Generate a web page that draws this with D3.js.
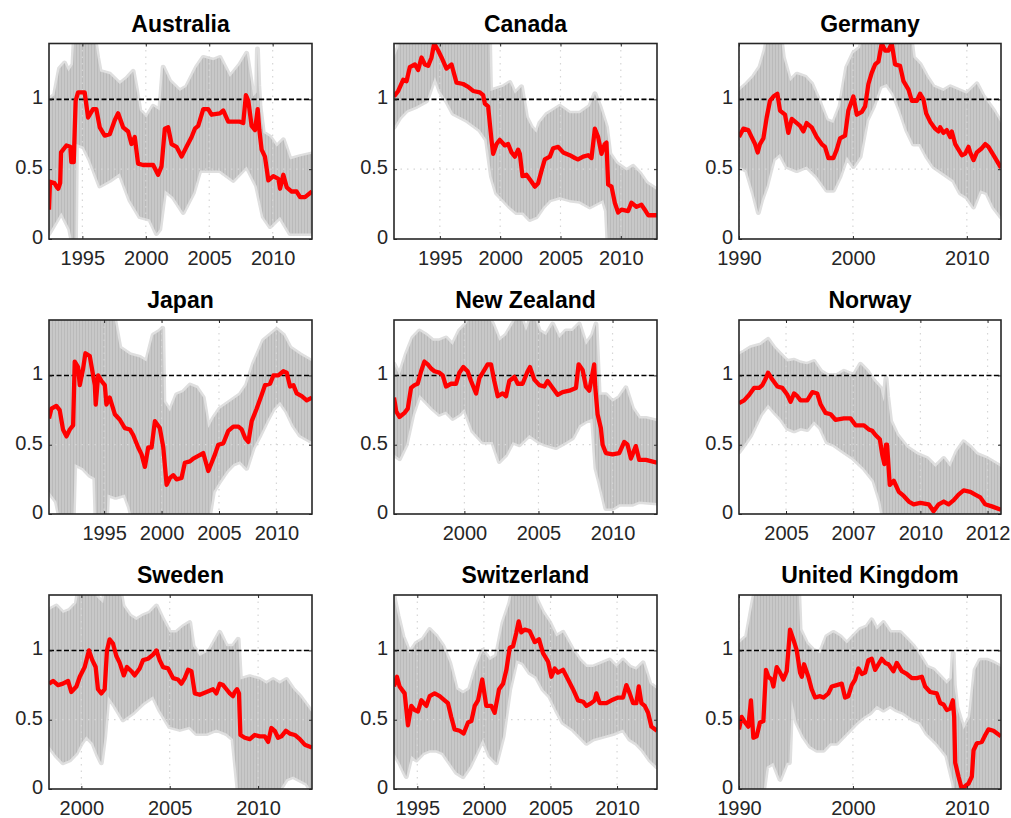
<!DOCTYPE html>
<html>
<head>
<meta charset="utf-8">
<title>Ratios by country</title>
<script src="https://cdn.jsdelivr.net/npm/d3@7"></script>
<style>
body { margin: 0; background: #fff; }
.axis path { display: none; }
.axis line { stroke: #262626; stroke-width: 1; }
.axis text { font-family: "Liberation Sans", Arial, Helvetica, sans-serif; font-size: 20px; fill: #262626; }
.title { font-family: "Liberation Sans", Arial, Helvetica, sans-serif; font-size: 23px; font-weight: bold; fill: #000; }
</style>
</head>
<body>
<script>
// panel names, x ranges (decimal years) and tick positions
var countries = ["Australia", "Canada", "Germany", "Japan", "New Zealand", "Norway", "Sweden", "Switzerland", "United Kingdom"];
var xDomains = [[1992.37, 2013.1], [1991.2, 2013.0], [1990, 2013], [1990.2, 2013.1], [1995.25, 2013], [2003.25, 2013], [1998.17, 2013.05], [1993.25, 2013], [1990, 2013]];
var xTicks = [[1995, 2000, 2005, 2010], [1995, 2000, 2005, 2010], [1990, 2000, 2010], [1995, 2000, 2005, 2010], [2000, 2005, 2010], [2005, 2007.5, 2010, 2012.5], [2000, 2005, 2010], [1995, 2000, 2005, 2010], [1990, 2000, 2010]];
var yTicks = [0, 0.5, 1];
var yDomain = [0, 1.4];
var refLevel = 1;

// estimate [year, value], band lower / upper [year, value]
var ausEst = [[1992.37,0.21],[1992.45,0.41],[1992.8,0.40],[1993.0,0.37],[1993.1,0.36],[1993.25,0.40],[1993.32,0.62],[1993.74,0.67],[1994.05,0.66],[1994.13,0.55],[1994.32,0.55],[1994.47,0.99],[1994.66,1.05],[1995.18,1.05],[1995.45,0.87],[1995.84,0.93],[1996.1,0.93],[1996.37,0.80],[1996.76,0.74],[1997.16,0.75],[1997.55,0.85],[1997.82,0.90],[1998.21,0.80],[1998.61,0.77],[1998.87,0.68],[1999.13,0.73],[1999.39,0.54],[1999.79,0.53],[2000.58,0.53],[2000.97,0.46],[2001.24,0.52],[2001.5,0.79],[2001.76,0.80],[2002.03,0.68],[2002.42,0.66],[2002.82,0.59],[2003.21,0.66],[2003.61,0.73],[2003.87,0.79],[2004.13,0.81],[2004.53,0.93],[2004.92,0.93],[2005.18,0.89],[2005.84,0.90],[2006.11,0.92],[2006.5,0.84],[2007.42,0.84],[2007.68,0.83],[2007.89,1.03],[2008.08,0.99],[2008.34,0.81],[2008.61,0.78],[2008.82,0.93],[2008.95,0.78],[2009.13,0.64],[2009.39,0.59],[2009.66,0.42],[2010.05,0.45],[2010.45,0.43],[2010.58,0.36],[2010.84,0.46],[2011.11,0.37],[2011.5,0.34],[2011.89,0.34],[2012.16,0.30],[2012.55,0.30],[2013.1,0.34]];
var ausLo = [[1992.37,0.04],[1993.34,0.19],[1994.0,0.07],[1994.26,-0.05],[1994.45,-0.05],[1994.53,0.68],[1995.1,0.66],[1995.58,0.57],[1996.37,0.38],[1997.16,0.42],[1997.95,0.47],[1998.74,0.28],[1999.53,0.16],[2000.32,0.14],[2000.84,0.04],[2001.1,0.07],[2001.5,0.35],[2002.16,0.30],[2002.95,0.19],[2003.74,0.33],[2004.26,0.49],[2005.05,0.49],[2005.84,0.49],[2006.89,0.42],[2007.95,0.52],[2008.74,0.38],[2009.26,0.16],[2009.79,0.09],[2010.58,0.16],[2011.37,0.04],[2012.16,0.04],[2013.1,0.04]];
var ausHi = [[1992.37,1.00],[1992.8,1.03],[1993.2,1.22],[1993.6,1.26],[1993.9,1.20],[1994.26,1.25],[1994.4,1.50],[1995.9,1.48],[1996.2,1.30],[1996.4,1.20],[1997.16,1.18],[1997.95,1.11],[1998.5,1.15],[1999.0,1.20],[1999.3,1.05],[1999.53,0.92],[2000.05,0.87],[2000.58,0.95],[2001.1,0.92],[2001.37,1.23],[2001.89,1.13],[2002.68,1.06],[2003.21,1.09],[2004.0,1.23],[2004.53,1.30],[2005.32,1.28],[2005.84,1.30],[2006.63,1.16],[2007.42,1.25],[2007.95,1.33],[2008.47,1.02],[2008.74,1.05],[2008.8,1.36],[2008.9,1.10],[2009.0,0.95],[2009.26,0.76],[2009.79,0.73],[2010.32,0.66],[2010.84,0.71],[2011.37,0.57],[2012.16,0.59],[2013.1,0.61]];

var canEst = [[1991.2,1.02],[1991.55,1.06],[1991.96,1.14],[1992.24,1.13],[1992.51,1.23],[1992.93,1.25],[1993.2,1.21],[1993.48,1.30],[1993.76,1.25],[1994.03,1.24],[1994.31,1.30],[1994.53,1.40],[1994.86,1.35],[1995.14,1.30],[1995.55,1.22],[1995.97,1.25],[1996.38,1.12],[1996.93,1.11],[1997.35,1.09],[1997.76,1.06],[1998.31,1.05],[1998.59,1.03],[1998.73,0.97],[1999.0,0.95],[1999.28,0.71],[1999.42,0.61],[1999.7,0.68],[1999.97,0.71],[2000.39,0.67],[2000.66,0.68],[2000.94,0.62],[2001.22,0.59],[2001.49,0.64],[2001.63,0.61],[2001.85,0.45],[2002.18,0.46],[2002.6,0.41],[2002.87,0.375],[2003.15,0.40],[2003.43,0.49],[2003.7,0.57],[2004.12,0.59],[2004.39,0.65],[2004.81,0.66],[2005.22,0.62],[2005.77,0.60],[2006.19,0.58],[2006.46,0.57],[2006.88,0.59],[2007.29,0.60],[2007.57,0.58],[2007.85,0.79],[2008.12,0.73],[2008.4,0.61],[2008.67,0.68],[2008.81,0.69],[2008.95,0.39],[2009.23,0.375],[2009.5,0.26],[2009.78,0.19],[2010.06,0.21],[2010.61,0.20],[2010.88,0.26],[2011.3,0.23],[2011.71,0.245],[2011.99,0.21],[2012.27,0.17],[2013.0,0.17]];
var canLo = [[1991.2,0.80],[1991.69,0.87],[1992.24,0.92],[1993.07,0.95],[1993.9,0.99],[1994.59,1.16],[1995.0,1.06],[1995.55,0.99],[1996.1,0.90],[1997.21,0.85],[1998.31,0.78],[1998.87,0.71],[1999.28,0.45],[1999.7,0.33],[2000.25,0.28],[2000.8,0.23],[2001.35,0.19],[2001.91,0.19],[2002.46,0.14],[2003.01,0.16],[2003.56,0.23],[2004.12,0.28],[2004.94,0.30],[2005.77,0.28],[2006.6,0.27],[2007.43,0.23],[2008.54,0.28],[2008.81,0.20],[2008.95,-0.05],[2013.0,-0.05]];
var canHi = [[1991.2,1.30],[1991.55,1.37],[1991.8,1.50],[1999.1,1.50],[1999.2,1.06],[2000.25,1.09],[2000.8,1.12],[2001.22,1.04],[2001.77,1.09],[2002.18,0.87],[2002.6,0.80],[2003.01,0.76],[2003.29,0.83],[2003.84,0.89],[2004.39,0.92],[2004.94,0.95],[2005.77,0.90],[2006.6,0.90],[2007.43,0.95],[2007.85,1.04],[2008.26,0.95],[2008.81,0.80],[2009.09,0.61],[2009.64,0.54],[2010.47,0.49],[2011.02,0.52],[2011.57,0.47],[2012.13,0.40],[2013.0,0.35]];

var gerEst = [[1990.0,0.73],[1990.38,0.79],[1990.82,0.78],[1991.11,0.73],[1991.41,0.68],[1991.64,0.62],[1991.84,0.68],[1992.14,0.72],[1992.43,0.87],[1992.72,0.99],[1993.02,1.02],[1993.37,1.04],[1993.6,0.92],[1994.04,0.89],[1994.33,0.76],[1994.63,0.86],[1994.92,0.84],[1995.36,0.81],[1995.65,0.77],[1995.94,0.83],[1996.38,0.80],[1996.82,0.73],[1997.26,0.68],[1997.55,0.66],[1997.85,0.58],[1998.29,0.58],[1998.58,0.64],[1998.87,0.72],[1999.31,0.74],[1999.6,0.92],[2000.04,1.02],[2000.34,0.89],[2000.78,0.91],[2001.07,0.95],[2001.36,1.11],[2001.65,1.19],[2001.95,1.25],[2002.24,1.27],[2002.53,1.40],[2002.83,1.35],[2003.12,1.35],[2003.41,1.40],[2003.7,1.25],[2004.14,1.24],[2004.44,1.13],[2004.88,1.07],[2005.17,0.99],[2005.61,0.99],[2005.9,1.04],[2006.19,1.00],[2006.43,0.90],[2006.78,0.84],[2007.22,0.79],[2007.51,0.77],[2007.66,0.80],[2007.95,0.76],[2008.24,0.78],[2008.54,0.73],[2008.68,0.77],[2008.98,0.68],[2009.27,0.64],[2009.56,0.60],[2009.85,0.61],[2010.15,0.66],[2010.29,0.62],[2010.59,0.565],[2010.88,0.62],[2011.32,0.65],[2011.62,0.68],[2011.9,0.66],[2012.34,0.60],[2013.0,0.51]];
var gerLo = [[1990.0,0.52],[1990.67,0.49],[1991.26,0.33],[1991.7,0.19],[1991.99,0.28],[1992.43,0.38],[1993.02,0.57],[1993.6,0.61],[1994.19,0.52],[1995.07,0.49],[1995.94,0.52],[1996.82,0.45],[1997.7,0.35],[1998.29,0.35],[1998.87,0.45],[1999.46,0.59],[2000.04,0.52],[2000.63,0.59],[2001.22,0.85],[2001.8,0.95],[2002.39,1.09],[2002.97,1.11],[2003.56,1.04],[2004.14,0.92],[2004.73,0.78],[2005.31,0.68],[2005.9,0.68],[2006.49,0.59],[2007.07,0.52],[2007.95,0.47],[2008.83,0.42],[2009.42,0.33],[2010.0,0.30],[2010.59,0.23],[2011.17,0.35],[2011.76,0.33],[2012.34,0.23],[2013.0,0.16]];
var gerHi = [[1990.0,1.06],[1990.67,1.11],[1991.26,1.16],[1991.84,1.23],[1992.28,1.35],[1992.58,1.50],[1993.6,1.50],[1993.89,1.30],[1994.48,1.13],[1995.07,1.18],[1995.8,1.16],[1996.38,1.11],[1997.12,0.97],[1997.7,0.85],[1998.29,0.83],[1998.87,0.95],[1999.46,1.23],[2000.04,1.33],[2000.63,1.37],[2001.07,1.50],[2005.02,1.50],[2005.31,1.30],[2005.9,1.25],[2006.49,1.16],[2007.07,1.09],[2007.95,1.06],[2008.54,1.09],[2009.42,1.06],[2010.0,1.04],[2010.88,1.11],[2011.46,1.02],[2012.34,0.92],[2013.0,0.83]];

var japEst = [[1990.2,0.69],[1990.41,0.76],[1990.84,0.78],[1991.13,0.75],[1991.42,0.61],[1991.72,0.56],[1992.01,0.61],[1992.3,0.64],[1992.44,1.10],[1992.73,1.06],[1992.88,0.93],[1993.17,1.05],[1993.37,1.16],[1993.75,1.14],[1994.19,0.93],[1994.27,0.79],[1994.48,1.00],[1994.77,0.96],[1995.06,0.93],[1995.2,0.79],[1995.49,0.84],[1995.93,0.72],[1996.37,0.68],[1996.8,0.62],[1997.24,0.61],[1997.53,0.57],[1997.97,0.48],[1998.26,0.43],[1998.55,0.34],[1998.84,0.48],[1999.13,0.48],[1999.42,0.67],[1999.85,0.62],[2000.15,0.48],[2000.44,0.21],[2000.73,0.26],[2001.02,0.28],[2001.31,0.25],[2001.74,0.26],[2002.03,0.37],[2002.47,0.38],[2002.76,0.40],[2003.2,0.42],[2003.63,0.44],[2004.07,0.31],[2004.36,0.37],[2004.65,0.43],[2004.94,0.50],[2005.38,0.51],[2005.81,0.60],[2006.25,0.63],[2006.69,0.63],[2006.98,0.61],[2007.27,0.55],[2007.56,0.52],[2007.85,0.67],[2008.28,0.76],[2008.72,0.86],[2009.01,0.93],[2009.45,0.94],[2009.74,1.00],[2010.17,1.00],[2010.61,1.03],[2010.9,1.02],[2011.19,0.92],[2011.48,0.93],[2011.77,0.87],[2012.21,0.85],[2012.64,0.82],[2013.1,0.84]];
var japLo = [[1990.2,0.16],[1990.84,0.09],[1991.2,-0.05],[1992.3,-0.05],[1992.44,0.36],[1993.17,0.33],[1993.75,0.28],[1994.19,0.26],[1994.3,-0.05],[1995.2,-0.05],[1995.3,0.14],[1996.0,0.12],[1996.8,0.14],[1997.2,0.05],[1997.5,-0.05],[2004.1,-0.05],[2004.51,0.16],[2005.09,0.24],[2005.67,0.31],[2006.25,0.36],[2006.83,0.38],[2007.41,0.33],[2007.99,0.48],[2008.58,0.57],[2009.16,0.67],[2009.74,0.76],[2010.32,0.81],[2010.9,0.74],[2011.48,0.64],[2012.06,0.57],[2013.1,0.52]];
var japHi = [[1990.2,1.50],[1995.7,1.50],[1996.37,1.20],[1997.24,1.15],[1998.11,1.13],[1998.69,1.10],[1999.27,1.29],[1999.85,1.32],[2000.1,1.34],[2000.2,0.81],[2000.73,0.74],[2001.31,0.86],[2001.89,0.88],[2002.47,0.93],[2003.05,0.91],[2003.63,0.84],[2004.07,0.62],[2004.51,0.69],[2005.09,0.76],[2005.96,0.81],[2006.83,0.86],[2007.41,0.93],[2007.99,1.08],[2008.87,1.25],[2009.45,1.29],[2010.03,1.33],[2010.61,1.29],[2011.19,1.20],[2012.06,1.15],[2013.1,1.10]];

var nzlEst = [[1995.25,0.84],[1995.4,0.74],[1995.62,0.70],[1995.96,0.73],[1996.18,0.76],[1996.4,0.91],[1996.63,0.93],[1996.85,0.94],[1997.08,1.03],[1997.3,1.10],[1997.53,1.08],[1997.75,1.05],[1997.98,1.03],[1998.31,1.02],[1998.54,1.00],[1998.76,0.92],[1999.1,0.94],[1999.44,0.94],[1999.66,1.02],[1999.93,1.06],[2000.22,1.03],[2000.45,0.96],[2000.79,0.87],[2001.01,0.98],[2001.24,1.02],[2001.57,1.08],[2001.8,1.08],[2002.02,0.96],[2002.25,0.85],[2002.58,0.87],[2002.81,0.85],[2003.03,0.96],[2003.37,0.99],[2003.6,0.94],[2003.93,0.94],[2004.27,1.03],[2004.43,1.06],[2004.72,0.97],[2005.06,0.93],[2005.39,0.92],[2005.62,0.96],[2005.96,0.91],[2006.29,0.86],[2006.63,0.88],[2007.08,0.89],[2007.53,0.91],[2007.71,1.08],[2007.98,1.04],[2008.2,0.92],[2008.43,0.89],[2008.76,1.08],[2008.83,0.92],[2008.99,0.72],[2009.21,0.62],[2009.33,0.50],[2009.55,0.44],[2010.0,0.43],[2010.45,0.44],[2010.79,0.52],[2011.01,0.50],[2011.24,0.40],[2011.57,0.49],[2011.8,0.39],[2012.25,0.39],[2013.0,0.37]];
var nzlLo = [[1995.25,0.43],[1995.62,0.40],[1996.07,0.50],[1996.52,0.72],[1996.97,0.86],[1997.42,0.81],[1997.87,0.76],[1998.31,0.72],[1998.76,0.74],[1999.21,0.69],[1999.66,0.72],[2000.0,0.76],[2000.56,0.60],[2001.24,0.52],[2001.91,0.52],[2002.36,0.38],[2002.81,0.43],[2003.26,0.52],[2003.71,0.50],[2004.38,0.57],[2005.06,0.52],[2005.51,0.50],[2006.18,0.48],[2006.85,0.52],[2007.3,0.55],[2007.75,0.64],[2008.2,0.67],[2008.65,0.69],[2008.88,0.33],[2009.1,0.24],[2009.55,0.04],[2010.0,0.04],[2010.45,0.07],[2011.35,0.07],[2011.8,0.09],[2013.0,0.08]];
var nzlHi = [[1995.25,1.08],[1995.62,1.00],[1996.07,1.15],[1996.52,1.27],[1996.97,1.32],[1997.42,1.29],[1997.87,1.25],[1998.31,1.25],[1998.76,1.27],[1999.21,1.22],[1999.66,1.32],[2000.11,1.37],[2000.56,1.45],[2001.46,1.45],[2001.91,1.37],[2002.36,1.25],[2002.81,1.29],[2003.26,1.37],[2003.71,1.45],[2004.16,1.32],[2004.61,1.45],[2005.06,1.32],[2005.51,1.29],[2005.96,1.37],[2006.4,1.27],[2006.85,1.32],[2007.3,1.32],[2007.75,1.37],[2008.2,1.22],[2008.65,1.29],[2008.88,1.37],[2009.1,0.86],[2009.55,0.86],[2010.0,0.81],[2010.45,0.84],[2010.9,0.91],[2011.35,0.76],[2011.8,0.69],[2012.25,0.69],[2013.0,0.67]];

var norEst = [[2003.25,0.80],[2003.44,0.82],[2003.63,0.86],[2003.81,0.91],[2004.0,0.91],[2004.12,0.93],[2004.25,0.98],[2004.33,1.02],[2004.49,0.97],[2004.68,0.92],[2004.86,0.91],[2005.05,0.86],[2005.17,0.81],[2005.3,0.87],[2005.42,0.85],[2005.54,0.82],[2005.79,0.82],[2005.98,0.88],[2006.16,0.87],[2006.29,0.79],[2006.47,0.73],[2006.66,0.72],[2006.84,0.68],[2007.15,0.69],[2007.4,0.69],[2007.59,0.64],[2007.9,0.64],[2008.08,0.61],[2008.21,0.60],[2008.33,0.57],[2008.49,0.54],[2008.58,0.43],[2008.66,0.36],[2008.72,0.50],[2008.76,0.50],[2008.86,0.21],[2009.01,0.24],[2009.2,0.16],[2009.38,0.13],[2009.57,0.09],[2009.75,0.07],[2010.0,0.08],[2010.31,0.07],[2010.49,0.02],[2010.68,0.07],[2010.87,0.09],[2011.05,0.07],[2011.24,0.10],[2011.42,0.14],[2011.61,0.17],[2011.86,0.16],[2012.04,0.14],[2012.23,0.12],[2012.41,0.07],[2012.66,0.055],[2013.0,0.03]];
var norLo = [[2003.25,0.45],[2003.44,0.50],[2003.69,0.57],[2004.06,0.72],[2004.33,0.79],[2004.55,0.74],[2004.8,0.69],[2005.05,0.62],[2005.3,0.60],[2005.54,0.62],[2005.79,0.61],[2006.04,0.67],[2006.29,0.62],[2006.53,0.52],[2006.78,0.50],[2007.15,0.45],[2007.52,0.40],[2007.9,0.33],[2008.27,0.24],[2008.51,0.09],[2008.64,-0.05],[2013.0,-0.05]];
var norHi = [[2003.25,1.15],[2003.44,1.17],[2003.69,1.20],[2004.06,1.22],[2004.33,1.26],[2004.55,1.20],[2004.8,1.15],[2005.05,1.10],[2005.3,1.11],[2005.54,1.09],[2005.79,1.08],[2006.04,1.10],[2006.29,1.03],[2006.53,1.00],[2006.91,1.00],[2007.15,1.03],[2007.52,1.00],[2007.77,1.08],[2008.02,1.03],[2008.27,0.96],[2008.51,0.91],[2008.64,0.81],[2008.72,0.98],[2008.78,0.85],[2008.89,0.67],[2009.13,0.57],[2009.5,0.48],[2009.88,0.43],[2010.25,0.40],[2010.56,0.34],[2010.87,0.40],[2011.11,0.34],[2011.36,0.45],[2011.61,0.52],[2011.86,0.48],[2012.1,0.43],[2012.48,0.40],[2013.0,0.34]];

var sweEst = [[1998.17,0.76],[1998.4,0.78],[1998.68,0.75],[1998.96,0.76],[1999.25,0.78],[1999.43,0.70],[1999.72,0.74],[1999.91,0.81],[2000.19,0.88],[2000.43,1.00],[2000.62,0.93],[2000.81,0.88],[2000.94,0.72],[2001.13,0.69],[2001.32,0.72],[2001.45,1.00],[2001.6,1.08],[2001.79,1.05],[2001.98,0.96],[2002.17,0.91],[2002.4,0.82],[2002.58,0.88],[2002.83,0.85],[2003.02,0.82],[2003.3,0.87],[2003.49,0.93],[2003.77,0.94],[2004.06,0.97],[2004.25,1.00],[2004.43,0.93],[2004.62,0.88],[2004.91,0.87],[2005.19,0.80],[2005.47,0.79],[2005.66,0.76],[2005.85,0.80],[2006.04,0.86],[2006.23,0.85],[2006.42,0.69],[2006.7,0.68],[2007.08,0.70],[2007.45,0.72],[2007.64,0.69],[2007.83,0.76],[2008.02,0.75],[2008.21,0.72],[2008.4,0.69],[2008.58,0.67],[2008.68,0.70],[2008.81,0.72],[2008.92,0.69],[2009.0,0.39],[2009.25,0.37],[2009.53,0.36],[2009.81,0.39],[2010.09,0.38],[2010.38,0.38],[2010.57,0.34],[2010.75,0.44],[2010.94,0.42],[2011.13,0.37],[2011.32,0.38],[2011.57,0.42],[2011.79,0.40],[2012.08,0.39],[2012.36,0.36],[2012.64,0.32],[2013.05,0.30]];
var sweLo = [[1998.17,0.31],[1998.58,0.24],[1998.96,0.19],[1999.34,0.21],[1999.72,0.26],[2000.0,0.33],[2000.28,0.38],[2000.66,0.33],[2000.94,0.24],[2001.13,0.19],[2001.32,0.38],[2001.51,0.67],[2001.89,0.60],[2002.36,0.50],[2002.92,0.55],[2003.49,0.62],[2004.06,0.67],[2004.43,0.57],[2005.0,0.45],[2005.57,0.43],[2006.13,0.45],[2006.51,0.40],[2007.08,0.40],[2007.64,0.43],[2008.21,0.40],[2008.58,0.36],[2008.9,-0.05],[2011.0,-0.05],[2011.6,0.07],[2011.98,0.09],[2012.74,0.04],[2013.05,-0.02]];
var sweHi = [[1998.17,1.29],[1998.58,1.32],[1998.96,1.27],[1999.34,1.29],[1999.72,1.34],[1999.91,1.50],[2000.8,1.50],[2000.85,1.39],[2001.23,1.34],[2001.42,1.50],[2002.1,1.50],[2002.36,1.32],[2002.74,1.25],[2003.11,1.22],[2003.49,1.25],[2003.87,1.27],[2004.25,1.32],[2004.62,1.22],[2005.0,1.13],[2005.38,1.13],[2005.75,1.17],[2006.13,1.20],[2006.32,1.03],[2006.7,0.96],[2007.26,1.00],[2007.83,1.13],[2008.21,1.03],[2008.58,1.03],[2008.87,1.08],[2009.0,0.79],[2009.53,0.81],[2010.09,0.79],[2010.47,0.76],[2010.85,0.79],[2011.23,0.76],[2011.6,0.79],[2011.98,0.72],[2012.36,0.67],[2013.05,0.55]];

var swiEst = [[1993.25,0.74],[1993.47,0.81],[1993.67,0.74],[1994.05,0.69],[1994.3,0.46],[1994.55,0.60],[1994.8,0.57],[1995.05,0.56],[1995.3,0.64],[1995.68,0.60],[1995.93,0.67],[1996.3,0.69],[1996.68,0.67],[1997.05,0.64],[1997.3,0.62],[1997.55,0.52],[1997.8,0.43],[1998.18,0.42],[1998.48,0.40],[1998.81,0.48],[1999.06,0.49],[1999.31,0.60],[1999.56,0.64],[1999.88,0.79],[2000.18,0.60],[2000.56,0.60],[2000.81,0.55],[2001.14,0.72],[2001.44,0.76],[2001.69,0.86],[2001.94,1.02],[2002.19,1.03],[2002.44,1.13],[2002.61,1.21],[2002.81,1.13],[2003.06,1.15],[2003.44,1.14],[2003.82,1.06],[2004.14,1.08],[2004.44,0.98],[2004.82,0.92],[2005.07,0.81],[2005.32,0.87],[2005.56,0.84],[2005.94,0.86],[2006.32,0.79],[2006.69,0.72],[2007.07,0.64],[2007.45,0.63],[2007.7,0.60],[2008.06,0.62],[2008.32,0.64],[2008.45,0.69],[2008.7,0.62],[2009.2,0.62],[2009.58,0.64],[2010.08,0.66],[2010.45,0.66],[2010.7,0.75],[2010.95,0.69],[2011.2,0.62],[2011.45,0.62],[2011.63,0.74],[2011.83,0.62],[2012.08,0.60],[2012.33,0.55],[2012.58,0.45],[2013.0,0.42]];
var swiLo = [[1993.25,0.26],[1993.67,0.19],[1994.17,0.09],[1994.55,0.24],[1994.92,0.21],[1995.43,0.26],[1995.93,0.28],[1996.43,0.28],[1996.93,0.26],[1997.43,0.19],[1997.93,0.12],[1998.43,0.09],[1998.93,0.16],[1999.43,0.26],[1999.92,0.36],[2000.43,0.24],[2000.94,0.19],[2001.44,0.38],[2001.94,0.72],[2002.44,0.93],[2002.94,0.91],[2003.44,0.84],[2003.94,0.81],[2004.44,0.72],[2004.94,0.67],[2005.44,0.57],[2005.94,0.48],[2006.69,0.43],[2007.19,0.38],[2007.7,0.33],[2008.2,0.36],[2008.95,0.38],[2009.7,0.40],[2010.45,0.43],[2010.95,0.36],[2011.45,0.33],[2011.95,0.28],[2012.46,0.21],[2013.0,0.16]];
var swiHi = [[1993.25,1.39],[1993.55,1.25],[1993.92,1.10],[1994.42,0.98],[1994.92,1.05],[1995.43,1.08],[1995.93,1.15],[1996.43,1.10],[1996.93,1.03],[1997.43,0.91],[1997.93,0.72],[1998.43,0.69],[1998.93,0.72],[1999.43,0.88],[1999.92,1.00],[2000.43,0.93],[2000.94,0.96],[2001.44,1.20],[2001.94,1.34],[2002.31,1.50],[2003.69,1.50],[2003.94,1.37],[2004.44,1.27],[2004.94,1.20],[2005.44,1.10],[2005.94,1.13],[2006.69,1.00],[2007.19,0.93],[2007.7,0.88],[2008.2,0.88],[2008.95,0.91],[2009.45,0.93],[2009.95,0.88],[2010.45,0.93],[2010.95,0.88],[2011.45,0.86],[2011.95,0.91],[2012.46,0.76],[2013.0,0.72]];

var gbrEst = [[1990.0,0.43],[1990.23,0.52],[1990.53,0.48],[1990.82,0.45],[1991.05,0.64],[1991.26,0.37],[1991.55,0.38],[1991.84,0.48],[1992.14,0.49],[1992.37,0.86],[1992.58,0.81],[1992.87,0.79],[1993.02,0.74],[1993.31,0.88],[1993.6,0.84],[1993.89,0.79],[1994.19,0.85],[1994.48,1.15],[1994.77,1.08],[1995.07,1.00],[1995.36,0.84],[1995.51,0.81],[1995.71,0.90],[1996.09,0.81],[1996.38,0.72],[1996.68,0.66],[1997.12,0.67],[1997.41,0.66],[1997.85,0.69],[1998.14,0.74],[1998.58,0.75],[1999.02,0.76],[1999.31,0.66],[1999.6,0.67],[1999.9,0.75],[2000.19,0.79],[2000.48,0.87],[2000.78,0.83],[2001.07,0.84],[2001.36,0.93],[2001.65,0.94],[2001.95,0.86],[2002.24,0.90],[2002.53,0.94],[2002.83,0.91],[2003.12,0.90],[2003.56,0.85],[2003.85,0.91],[2004.29,0.85],[2004.73,0.83],[2005.17,0.80],[2005.61,0.80],[2006.05,0.81],[2006.34,0.74],[2006.78,0.70],[2007.36,0.69],[2007.66,0.62],[2007.95,0.61],[2008.24,0.57],[2008.54,0.58],[2008.77,0.64],[2008.89,0.52],[2008.98,0.19],[2009.27,0.09],[2009.56,0.0],[2009.85,0.02],[2010.15,0.04],[2010.44,0.09],[2010.59,0.28],[2010.88,0.33],[2011.32,0.34],[2011.62,0.39],[2011.9,0.43],[2012.34,0.42],[2013.0,0.38]];
var gbrLo = [[1990.0,-0.05],[1992.1,-0.05],[1992.43,0.16],[1993.02,0.19],[1993.6,0.07],[1994.19,0.19],[1994.42,0.19],[1994.63,0.64],[1995.07,0.48],[1995.65,0.38],[1996.24,0.31],[1996.82,0.28],[1997.41,0.28],[1997.99,0.33],[1998.58,0.33],[1999.17,0.38],[1999.75,0.43],[2000.34,0.48],[2000.92,0.52],[2001.51,0.55],[2002.09,0.60],[2002.68,0.57],[2003.27,0.60],[2003.85,0.57],[2004.44,0.55],[2005.31,0.50],[2005.9,0.48],[2006.49,0.40],[2007.36,0.33],[2008.24,0.24],[2008.83,0.04],[2009.0,-0.05],[2013.0,-0.05]];
var gbrHi = [[1990.0,1.05],[1990.67,1.10],[1991.26,1.37],[1991.6,1.50],[1995.2,1.50],[1995.36,1.15],[1995.94,1.05],[1996.53,1.00],[1997.12,0.98],[1997.7,1.10],[1998.29,1.13],[1998.87,1.10],[1999.46,1.05],[2000.04,1.10],[2000.63,1.15],[2001.22,1.17],[2001.65,1.22],[2002.09,1.15],[2002.68,1.20],[2003.27,1.13],[2004.14,1.13],[2004.73,1.08],[2005.31,1.03],[2005.9,0.96],[2006.49,0.88],[2007.07,0.86],[2007.66,0.81],[2008.24,0.76],[2008.68,0.80],[2008.8,0.98],[2008.9,0.75],[2009.12,0.59],[2009.71,0.43],[2010.29,0.52],[2010.73,0.86],[2011.17,0.93],[2011.76,0.93],[2012.34,0.91],[2013.0,0.88]];

var estimates = [ausEst, canEst, gerEst, japEst, nzlEst, norEst, sweEst, swiEst, gbrEst];
var lowers = [ausLo, canLo, gerLo, japLo, nzlLo, norLo, sweLo, swiLo, gbrLo];
var uppers = [ausHi, canHi, gerHi, japHi, nzlHi, norHi, sweHi, swiHi, gbrHi];

var width = 1011, height = 818;
var colLeft = [49, 394, 739], colWidth = [263, 263, 262];
var rowTop = [43.5, 320, 595], rowHeight = [195.5, 194, 194];

var svg = d3.select("body").append("svg")
	.attr("width", width)
	.attr("height", height);

var defs = svg.append("defs");
// vertical striping seen inside the confidence band
var pat = defs.append("pattern")
	.attr("id", "stripes")
	.attr("patternUnits", "userSpaceOnUse")
	.attr("width", 3).attr("height", 10);
pat.append("rect").attr("width", 3).attr("height", 10).attr("fill", "#c8c8c8");
pat.append("rect").attr("width", 1).attr("height", 10).attr("fill", "#bababa");

countries.forEach(function(name, i) {
	var c = i % 3, r = Math.floor(i / 3);
	var w = colWidth[c], h = rowHeight[r];
	var x = d3.scaleLinear().domain(xDomains[i]).range([0, w]);
	var y = d3.scaleLinear().domain(yDomain).range([h, 0]);

	var g = svg.append("g").attr("transform", "translate(" + colLeft[c] + "," + rowTop[r] + ")");

	defs.append("clipPath").attr("id", "clip" + i)
		.append("rect").attr("width", w).attr("height", h);

	var plot = g.append("g").attr("clip-path", "url(#clip" + i + ")");

	var line = d3.line().x(function(d) { return x(d[0]); }).y(function(d) { return y(d[1]); });

	// confidence band: upper edge forward, lower edge back
	var poly = uppers[i].concat(lowers[i].slice().reverse());
	plot.append("path")
		.attr("d", line(poly) + "Z")
		.attr("fill", "url(#stripes)")
		.attr("stroke", "#dfdfdf")
		.attr("stroke-width", 5)
		.attr("stroke-linejoin", "round")
		.attr("paint-order", "stroke");

	// dotted grid
	plot.selectAll(".vgrid").data(xTicks[i]).enter().append("line")
		.attr("x1", function(d) { return x(d); }).attr("x2", function(d) { return x(d); })
		.attr("y1", 0).attr("y2", h)
		.attr("stroke", "#d6d6d6").attr("stroke-width", 1.2)
		.attr("stroke-dasharray", "1.5,5");
	plot.selectAll(".hgrid").data(yTicks.slice(1)).enter().append("line")
		.attr("x1", 0).attr("x2", w)
		.attr("y1", function(d) { return y(d); }).attr("y2", function(d) { return y(d); })
		.attr("stroke", "#d6d6d6").attr("stroke-width", 1.2)
		.attr("stroke-dasharray", "1.5,5");

	// reference level
	plot.append("line")
		.attr("x1", 0).attr("x2", w)
		.attr("y1", y(refLevel)).attr("y2", y(refLevel))
		.attr("stroke", "#000").attr("stroke-width", 1.6)
		.attr("stroke-dasharray", "5,2.5");

	plot.append("path")
		.attr("d", line(estimates[i]))
		.attr("fill", "none")
		.attr("stroke", "#ff0000")
		.attr("stroke-width", 4.3)
		.attr("stroke-linejoin", "round");

	// axes with inward ticks on all four sides
	g.append("g").attr("class", "axis")
		.attr("transform", "translate(0," + h + ")")
		.call(d3.axisBottom(x).tickValues(xTicks[i]).tickSize(-3).tickPadding(12)
			.tickFormat(function(d) { return Math.floor(d); }));
	var yAxis = g.append("g").attr("class", "axis")
		.call(d3.axisLeft(y).tickValues(yTicks).tickSize(-3).tickPadding(6)
			.tickFormat(function(d) { return String(d); }));
	yAxis.selectAll("text").attr("dy", "0.22em");
	g.append("g").attr("class", "axis")
		.call(d3.axisTop(x).tickValues(xTicks[i]).tickSize(-3).tickFormat(""));
	g.append("g").attr("class", "axis")
		.attr("transform", "translate(" + w + ",0)")
		.call(d3.axisRight(y).tickValues(yTicks).tickSize(-3).tickFormat(""));

	g.append("rect")
		.attr("width", w).attr("height", h)
		.attr("fill", "none")
		.attr("stroke", "#262626")
		.attr("stroke-width", 1.6);

	g.append("text")
		.attr("class", "title")
		.attr("x", w / 2).attr("y", -12)
		.attr("text-anchor", "middle")
		.text(name);
});
</script>
</body>
</html>
